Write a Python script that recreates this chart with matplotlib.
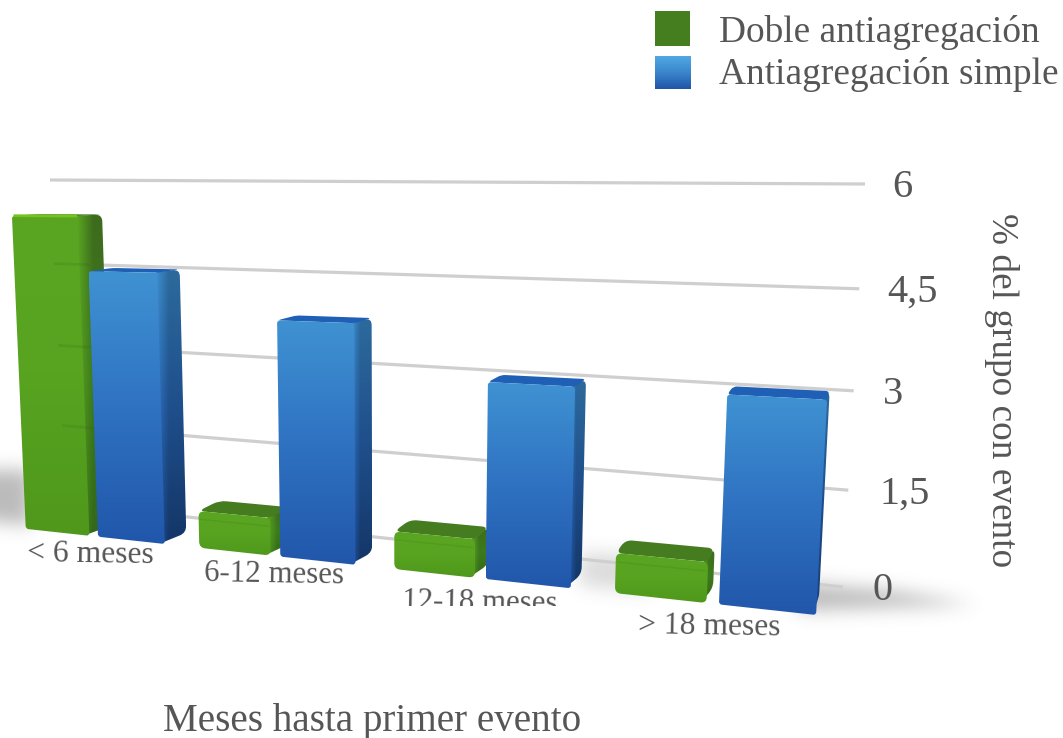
import numpy as np
import matplotlib
matplotlib.use("Agg")
import matplotlib.pyplot as plt
from matplotlib.path import Path
from matplotlib.patches import PathPatch, Rectangle

plt.rcParams['font.family'] = ['Liberation Serif', 'DejaVu Serif']

categories = ["< 6 meses", "6-12 meses", "12-18 meses", "> 18 meses"]
doble = [5.4, 0.62, 0.6, 0.6]
simple = [4.5, 3.8, 3.0, 3.0]
ticks = [0, 1.5, 3, 4.5, 6]
tick_labels = ["0", "1,5", "3", "4,5", "6"]
legend_names = ["Doble antiagregación", "Antiagregación simple"]

TEXT = "#565656"
GREEN = dict(front=["#5AA622", "#58A320", "#4F981C"], side=["#3E6B1E", "#3C7A1C", "#33681A"], top="#467C20")
BLUE = dict(front=["#3F92D2", "#2F72C2", "#2157AB"], side=["#2C6A9C", "#1F4F8C", "#143667"], top="#1F5FB6")

# calibration of the 3d view: (category pos, value, depth) -> pixel
calib = [
    (0, 0, 1, 23, 528), (0, 5.4, 1, 9, 215), (0.38, 5.4, 1, 80, 216),
    (0.43, 4.5, 1, 90, 273), (0.81, 4.5, 1, 158, 274), (0.81, 0, 1, 166, 542), (0.43, 0, 1, 99, 536),
    (1.0, 0, 1, 199, 547), (1.38, 0, 1, 269, 555),
    (3.43, 0, 1, 717, 607), (3.81, 0, 1, 815, 618),
    (3.81, 3, 1, 828, 398), (3.43, 3, 1, 726, 393),
    (1.43, 0, 1, 281, 558), (1.81, 0, 1, 357, 565), (1.43, 3.8, 1, 278, 322),
    (2.81, 3, 1, 576, 383), (2.81, 0, 1, 571, 589),
    (3.81, 3, 0, 829, 389), (0.81, 4.5, 0, 180, 272), (0.38, 5.4, 0, 100, 213),
    (0.81, 0, 0, 187, 532), (1.81, 3.8, 0, 372, 322), (1.81, 0, 0, 373, 550),
    (2.81, 3, 0, 586, 375), (2.81, 0, 0, 582, 578),
]
A, b = [], []
for X, V, Z, u, w in calib:
    A.append([X, V, Z, 1, 0, 0, 0, 0, -u * X, -u * V, -u * Z])
    A.append([0, 0, 0, 0, X, V, Z, 1, -w * X, -w * V, -w * Z])
    b += [u, w]
P = np.append(np.linalg.lstsq(np.array(A, float), np.array(b, float), rcond=None)[0], 1).reshape(3, 4)


def project(X, V, Z):
    p = P @ np.array([X, V, Z, 1.0])
    return p[:2] / p[2]


# back wall with the gridlines, s runs from left to right end
src = [(0, 0), (1, 0), (0, 6), (1, 6)]
dst = [(66, 504), (843, 587), (50, 180), (865, 184)]
A, b = [], []
for (s, V), (u, w) in zip(src, dst):
    A.append([s, V, 1, 0, 0, 0, -u * s, -u * V])
    A.append([0, 0, 0, s, V, 1, -w * s, -w * V])
    b += [u, w]
H = np.append(np.linalg.solve(np.array(A, float), np.array(b, float)), 1).reshape(3, 3)


def wall(s, V):
    p = H @ np.array([s, V, 1.0])
    return p[:2] / p[2]


def rounded(pts, r):
    # closed polygon path with the corners rounded off
    pts = [np.array(p, float) for p in pts]
    verts, codes = [], []
    n = len(pts)
    for i in range(n):
        prev, cur, nxt = pts[i - 1], pts[i], pts[(i + 1) % n]
        r1 = min(r, np.linalg.norm(prev - cur) / 2)
        r2 = min(r, np.linalg.norm(nxt - cur) / 2)
        a = cur + (prev - cur) / np.linalg.norm(prev - cur) * r1
        c = cur + (nxt - cur) / np.linalg.norm(nxt - cur) * r2
        verts += [a, cur, c]
        codes += [Path.MOVETO if i == 0 else Path.LINETO, Path.CURVE3, Path.CURVE3]
    verts.append(verts[0])
    codes.append(Path.CLOSEPOLY)
    return Path(verts, codes)


def ramp(stops, n=80):
    rgb = np.array([matplotlib.colors.to_rgb(c) for c in stops])
    t = np.linspace(0, 1, n)
    pos = np.linspace(0, 1, len(stops))
    return np.stack([np.interp(t, pos, rgb[:, k]) for k in range(3)], axis=1)


def paint(ax, path, img, z):
    x0, y0 = path.vertices.min(axis=0)
    x1, y1 = path.vertices.max(axis=0)
    im = ax.imshow(img, extent=(x0, x1, y1, y0), aspect="auto", zorder=z, interpolation="bilinear")
    im.set_clip_path(PathPatch(path, transform=ax.transData))


def draw_bar(ax, x0, x1, v, style, z):
    fl0, fl1 = project(x0, 0, 1), project(x1, 0, 1)
    ft0, ft1 = project(x0, v, 1), project(x1, v, 1)
    bl1, bt1 = project(x1, 0, 0), project(x1, v, 0)
    bt0 = project(x0, v, 0)
    r = 7 if v < 1 else 4

    # side face fades out of the front colour near the edge
    front = ramp(style["front"])
    side = ramp(style["side"])
    sp = rounded([ft1 - [6, 0], bt1, bl1, fl1 - [6, 0]], 7)
    w = np.clip(np.linspace(0, 1, 40) * 2.5 - 0.3, 0, 1)[None, :, None]
    paint(ax, sp, front[:, None, :] * (1 - w) + side[:, None, :] * w, z)

    ax.add_patch(PathPatch(rounded([ft0, ft1, bt1, bt0], r), fc=style["top"], ec="none", zorder=z + 0.1))
    fp = rounded([ft0, ft1, fl1, fl0], r - 1)
    paint(ax, fp, front[:, None, :], z + 0.2)
    return ft0, ft1


fig = plt.figure(figsize=(10.63, 7.38), dpi=100)
ax = fig.add_axes([0, 0, 1, 1])

# soft floor shadows, worked out on a padded grid so they run off the edge cleanly
pad = 80
gx, gy = np.meshgrid(np.arange(-pad, 1063 + pad), np.arange(-pad, 738 + pad))
grid = np.column_stack([gx.ravel(), gy.ravel()])
mask = np.zeros(gx.shape)
shadow_shapes = [
    ([(-80, 468), (30, 470), (30, 525), (-80, 512)], 0.38),
    ([(790, 582), (890, 590), (975, 604), (800, 610)], 0.38),
    ([(580, 552), (650, 556), (650, 592), (580, 585)], 0.2),
]
for shape, amount in shadow_shapes:
    mask = np.maximum(mask, Path(shape).contains_points(grid).reshape(gx.shape) * amount)
kernel = np.exp(-np.linspace(-2.4, 2.4, 61) ** 2)
kernel /= kernel.sum()
mask = np.apply_along_axis(lambda r: np.convolve(r, kernel, mode="same"), 0, mask)
mask = np.apply_along_axis(lambda r: np.convolve(r, kernel, mode="same"), 1, mask)
shadow = np.zeros(gx.shape + (4,))
shadow[..., :3] = 0.3
shadow[..., 3] = mask
ax.imshow(shadow[pad:-pad, pad:-pad], extent=(0, 1063, 738, 0), aspect="auto", zorder=0.5)

# gridlines and value labels
label_shift = [29, 31, 29, 28, 27]
for v, lab, dx in zip(ticks, tick_labels, label_shift):
    a, c = wall(0, v), wall(1, v)
    ax.plot([a[0], c[0]], [a[1], c[1]], color="#CFCFCF", lw=2.3, zorder=1, solid_capstyle="butt")
    ax.text(c[0] + dx, c[1] - 1, lab, fontsize=29, color=TEXT, ha="left", va="center_baseline")

# bars, back to front from the left
for i in range(len(categories)):
    ft0, ft1 = draw_bar(ax, i, i + 0.38, doble[i], GREEN, 2 + i * 2)
    if i == 0:
        # lit front edge of the tall bar
        ax.plot([ft0[0] + 3, ft1[0] - 2], [ft0[1], ft1[1]], color="#74C41E", lw=2, zorder=2.3)
    else:
        # crease under the rounded top of the short bars
        a, c = project(i + 0.01, doble[i] * 0.78, 1), project(i + 0.37, doble[i] * 0.78, 1)
        ax.plot([a[0], c[0]], [a[1], c[1]], color="#478A1A", lw=1, alpha=0.35, zorder=2 + i * 2 + 0.3)
    draw_bar(ax, i + 0.43, i + 0.81, simple[i], BLUE, 3 + i * 2)

# gridlines show faintly through the first bar
for v in ticks[1:4]:
    a, c = wall(0, v), wall(0.055, v)
    ax.plot([a[0], c[0]], [a[1], c[1]], color="#2E5A12", lw=2, alpha=0.14, zorder=2.4, solid_capstyle="butt")

# category labels follow the floor
label_dx = [-3, -1, 0, -3]
label_dy = [18, 19, 24, 23]
label_size = [22.8, 22.2, 22.2, 22.8]
for i, name in enumerate(categories):
    px = project(i + 0.405, 0, 1)
    t = ax.text(px[0] + label_dx[i], px[1] + label_dy[i], name, fontsize=label_size[i], color=TEXT,
                ha="center", va="center", rotation=-1, rotation_mode="anchor", zorder=20)
    if i == 2:
        # this label box is too short and cuts the text
        t.set_clip_on(True)
        t.set_clip_path(Rectangle((0, 606), 1063, -606, transform=ax.transData))

ax.text(372, 721, "Meses hasta primer evento", fontsize=28.2, color=TEXT, ha="center", va="center")
ax.text(1001, 390, "% del grupo con evento", fontsize=26.8, color=TEXT, ha="center", va="center", rotation=270)

# legend
ax.add_patch(Rectangle((655, 11), 35, 35, fc="#457E1E", ec="none"))
ax.imshow(ramp(["#50A9E2", "#3A86CC", "#1F53A8"])[:, None, :], extent=(655, 691, 89, 56), aspect="auto")
ax.text(719, 32.5, legend_names[0], fontsize=26.9, color=TEXT, ha="left", va="center")
ax.text(719, 74.5, legend_names[1], fontsize=26.9, color=TEXT, ha="left", va="center")

ax.set_xlim(0, 1063)
ax.set_ylim(738, 0)
ax.axis("off")
fig.savefig("out.png", dpi=100)
